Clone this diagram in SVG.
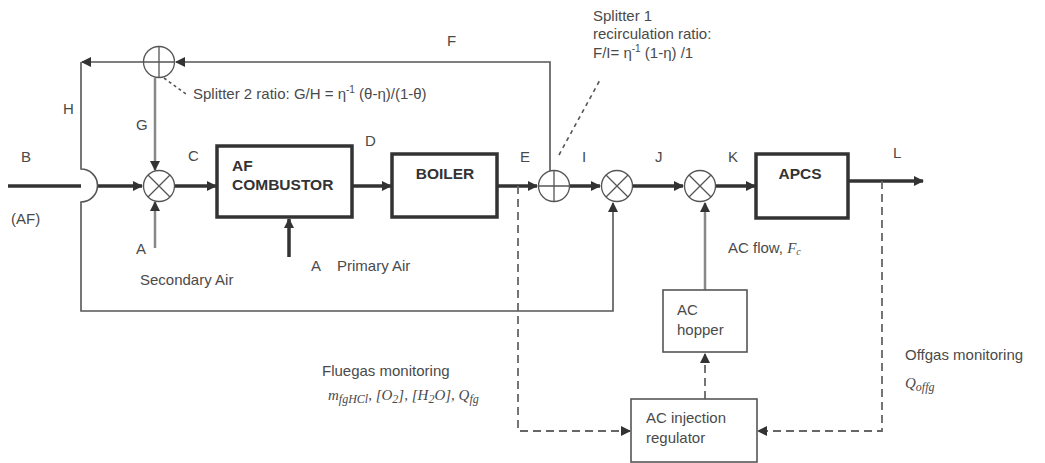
<svg xmlns="http://www.w3.org/2000/svg" width="1045" height="463" viewBox="0 0 1045 463">
<style>
text{font-family:"Liberation Sans",Arial,sans-serif;fill:#4a4a4a;font-size:15px}
.b{font-weight:bold;font-size:15.5px;fill:#333}
.m{font-family:"Liberation Serif","Times New Roman",serif;font-style:italic}
.box{fill:#fff;stroke:#333;stroke-width:3.5}
.tbox{fill:#fff;stroke:#555;stroke-width:1.6}
.th{stroke:#333;stroke-width:3.5;fill:none}
.tn{stroke:#555;stroke-width:1.6;fill:none}
.gr{stroke:#888;stroke-width:2.5;fill:none}
.d{stroke:#666;stroke-width:1.8;fill:none;stroke-dasharray:8,5}
.c{fill:#fff;stroke:#555;stroke-width:1.3}
.x{stroke:#555;stroke-width:1.3;fill:none}
</style>
<defs>
<marker id="a" viewBox="0 0 10 10" refX="9" refY="5" markerWidth="10" markerHeight="10" markerUnits="userSpaceOnUse" orient="auto"><path d="M0,0L10,5L0,10z" fill="#333"/></marker>
</defs>
<g id="connectors">
<path class="th" d="M8,186H81M97,186H142" marker-end="url(#a)"/>
<path class="tn" d="M81,62V169A16,16 0 0 1 81,202V311H613V203" marker-end="url(#a)"/>
<path class="tn" d="M550,171V62H176" marker-end="url(#a)"/>
<path class="tn" d="M143,62H82" marker-end="url(#a)"/>
<path class="gr" d="M155,78V170" marker-end="url(#a)"/>
<path class="gr" d="M155,248V202" marker-end="url(#a)"/>
<path class="th" d="M175,186H216" marker-end="url(#a)"/>
<path class="th" d="M289,257V219" marker-end="url(#a)"/>
<path class="th" d="M352,186H391" marker-end="url(#a)"/>
<path class="th" d="M497,186H537" marker-end="url(#a)"/>
<path class="th" d="M570,186H600" marker-end="url(#a)"/>
<path class="th" d="M633,186H683" marker-end="url(#a)"/>
<path class="th" d="M716,186H755" marker-end="url(#a)"/>
<path class="th" d="M848,181H923" marker-end="url(#a)"/>
<path class="gr" stroke="#777" d="M705,290V203" marker-end="url(#a)"/>
<path class="d" d="M518,186V431H630" marker-end="url(#a)"/>
<path class="d" d="M882,181V431H758" marker-end="url(#a)"/>
<path class="d" d="M705,399V354" marker-end="url(#a)"/>
<path class="tn" stroke-dasharray="3,3" d="M164,78L186,94"/>
<path class="tn" stroke-dasharray="4,4" d="M559,155L601,78"/>
</g>
<g id="splitter2"><circle class="c" cx="159" cy="62" r="15.5"/><path class="x" d="M143.5,62H174.5M159,46.5V77.5"/></g>
<g id="mixer1"><circle class="c" cx="159" cy="186" r="15.5"/><path class="x" d="M148,175L170,197M170,175L148,197"/></g>
<g id="splitter1"><circle class="c" cx="554" cy="186" r="15.5"/><path class="x" d="M538.5,186H569.5M554,170.5V201.5"/></g>
<g id="mixer2"><circle class="c" cx="617" cy="186" r="15.5"/><path class="x" d="M606,175L628,197M628,175L606,197"/></g>
<g id="mixer3"><circle class="c" cx="700" cy="186" r="15.5"/><path class="x" d="M689,175L711,197M711,175L689,197"/></g>
<g id="combustor"><rect class="box" x="217" y="146" width="135" height="71"/><text class="b" x="232" y="171">AF</text><text class="b" x="232" y="190">COMBUSTOR</text></g>
<g id="boiler"><rect class="box" x="392" y="154" width="105" height="63"/><text class="b" x="445" y="179" text-anchor="middle">BOILER</text></g>
<g id="apcs"><rect class="box" x="756" y="154" width="92" height="64"/><text class="b" x="800" y="179" text-anchor="middle">APCS</text></g>
<g id="hopper"><rect class="tbox" x="663" y="290" width="84" height="62"/><text x="677" y="315" font-size="19.5">AC</text><text x="677" y="335" font-size="19.5">hopper</text></g>
<g id="regulator"><rect class="tbox" x="631" y="399" width="126" height="63"/><text x="646" y="423" font-size="19.5">AC injection</text><text x="646" y="443" font-size="19.5">regulator</text></g>
<g id="labels">
<text x="63" y="114">H</text>
<text x="136" y="130">G</text>
<text x="21" y="162">B</text>
<text x="188" y="161">C</text>
<text x="11" y="224">(AF)</text>
<text x="136" y="254">A</text>
<text x="140" y="285" font-size="16">Secondary Air</text>
<text x="311" y="271">A</text>
<text x="337" y="271" font-size="16.5">Primary Air</text>
<text x="365" y="146">D</text>
<text x="520" y="162">E</text>
<text x="582" y="162">I</text>
<text x="655" y="162">J</text>
<text x="728" y="162">K</text>
<text x="893" y="158">L</text>
<text x="447" y="46">F</text>
<text x="193" y="99" font-size="16">Splitter 2 ratio: G/H = η<tspan font-size="10" dy="-6">-1</tspan><tspan dy="6"> (θ-η)/(1-θ)</tspan></text>
<text x="593" y="21" font-size="16">Splitter 1</text>
<text x="593" y="39" font-size="16.5">recirculation ratio:</text>
<text x="593" y="58" font-size="16.5">F/I= η<tspan font-size="10" dy="-6">-1</tspan><tspan dy="6"> (1-η) /1</tspan></text>
<text x="728" y="253" font-size="15.5">AC flow, <tspan class="m">F</tspan><tspan class="m" font-size="10" dy="2">c</tspan></text>
<text x="322" y="376" font-size="19.5">Fluegas monitoring</text>
<text class="m" x="328" y="400" font-size="20.5">m<tspan font-size="12" dy="3">fgHCl</tspan><tspan dy="-3">, [O</tspan><tspan font-size="12" dy="3">2</tspan><tspan dy="-3">], [H</tspan><tspan font-size="12" dy="3">2</tspan><tspan dy="-3">O], Q</tspan><tspan font-size="12" dy="3">fg</tspan></text>
<text x="905" y="360" font-size="20.5">Offgas monitoring</text>
<text class="m" x="905" y="388" font-size="20">Q<tspan font-size="12" dy="3">offg</tspan></text>
</g>
</svg>
